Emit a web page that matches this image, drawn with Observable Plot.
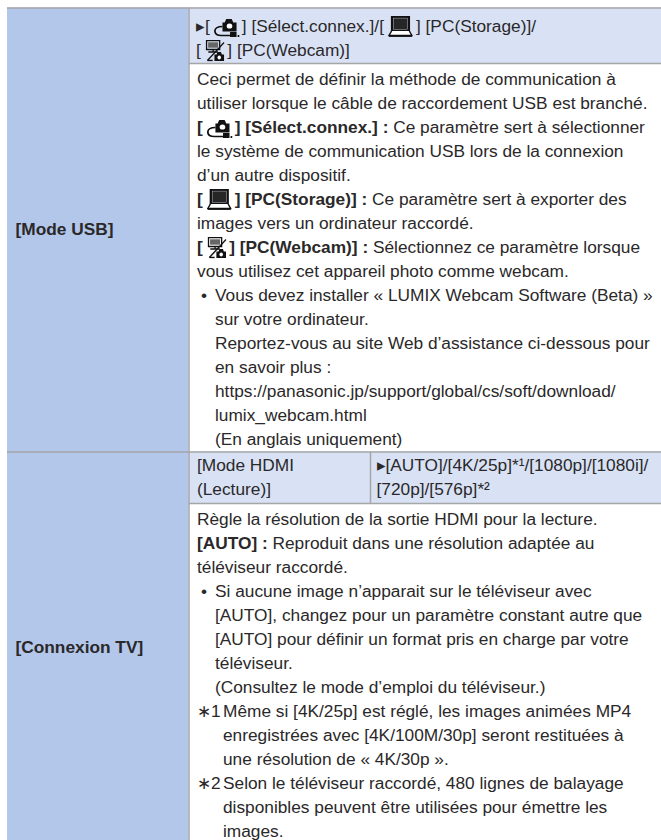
<!doctype html>
<html><head><meta charset="utf-8">
<script src="https://cdn.jsdelivr.net/npm/d3@7"></script>
<script src="https://cdn.jsdelivr.net/npm/@observablehq/plot@0.6"></script>
<style>html,body{margin:0;background:#fff}svg{display:block}</style>
</head><body><div id="chart"></div>
<script>
// Table content: ** toggles bold, {cam}/{pc}/{web} are inline icons
const usbHeader = ["▸[{cam}] [Sélect.connex.]/[{pc}] [PC(Storage)]/", "[{web}] [PC(Webcam)]"];
const usbBody = [
  "Ceci permet de définir la méthode de communication à",
  "utiliser lorsque le câble de raccordement USB est branché.",
  "**[{cam}] [Sélect.connex.] :** Ce paramètre sert à sélectionner",
  "le système de communication USB lors de la connexion",
  "d’un autre dispositif.",
  "**[{pc}] [PC(Storage)] :** Ce paramètre sert à exporter des",
  "images vers un ordinateur raccordé.",
  "**[{web}] [PC(Webcam)] :** Sélectionnez ce paramètre lorsque",
  "vous utilisez cet appareil photo comme webcam.",
  "•|Vous devez installer « LUMIX Webcam Software (Beta) »",
  "|sur votre ordinateur.",
  "|Reportez-vous au site Web d’assistance ci-dessous pour",
  "|en savoir plus :",
  "|https://panasonic.jp/support/global/cs/soft/download/",
  "|lumix_webcam.html",
  "|(En anglais uniquement)"
];
const tvHeaderLeft = ["[Mode HDMI", "(Lecture)]"];
const tvHeaderRight = ["▸[AUTO]/[4K/25p]*¹/[1080p]/[1080i]/", "[720p]/[576p]*²"];
const tvBody = [
  "Règle la résolution de la sortie HDMI pour la lecture.",
  "**[AUTO] :** Reproduit dans une résolution adaptée au",
  "téléviseur raccordé.",
  "•|Si aucune image n’apparait sur le téléviseur avec",
  "|[AUTO], changez pour un paramètre constant autre que",
  "|[AUTO] pour définir un format pris en charge par votre",
  "|téléviseur.",
  "|(Consultez le mode d’emploi du téléviseur.)",
  "∗1^Même si [4K/25p] est réglé, les images animées MP4",
  "^enregistrées avec [4K/100M/30p] seront restituées à",
  "^une résolution de « 4K/30p ».",
  "∗2^Selon le téléviseur raccordé, 480 lignes de balayage",
  "^disponibles peuvent être utilisées pour émettre les",
  "^images."
];
const rowLabels = ["[Mode USB]", "[Connexion TV]"];

// Layout
const FS = 17.3, LH = 24, FONT = "Liberation Sans", INK = "#2a2829";
const X0 = 7, X1 = 188.5, X2 = 370, XR = 661, PAD = 8;
const Y0 = 7.5, Y1 = 63, Y2 = 451.5, Y3 = 503, Y4 = 840;
const BULLET_X = 15, NOTE_X = 28;

const icon = svg => "data:image/svg+xml," + encodeURIComponent(
  `<svg xmlns="http://www.w3.org/2000/svg" viewBox="0 0 24 22" preserveAspectRatio="none">${svg}</svg>`);
const icons = {
  cam: {slot: 32, w: 26, src: icon(`<path d="M8 7h2l1.5-3.5h5L18 7h3v9H8z" fill="#111"/><circle cx="14.5" cy="10.5" r="2.6" fill="#fff"/><path d="M8 11C3 11 1 13 1 15.5S3 20 7 20h9" fill="none" stroke="#111" stroke-width="1.6"/><rect x="15" y="16.5" width="6" height="5" fill="#111"/><rect x="22" y="19.5" width="1.6" height="2" fill="#111"/>`)},
  pc: {slot: 32, w: 25, src: icon(`<rect x="3.5" y="1" width="17" height="14.5" fill="#111" stroke="#111" stroke-width="1.4"/><rect x="5.2" y="2.6" width="13.6" height="11.2" fill="#262626" stroke="#d9e2f5" stroke-width=".4"/><path d="M3.5 15.5 1 20h22l-2.5-4.5" fill="#fff" stroke="#111" stroke-width="1.4"/><rect x="1" y="19.8" width="22" height="1.6" fill="#111"/>`)},
  web: {slot: 26.5, w: 21, src: icon(`<rect x="2" y="1" width="15" height="9" fill="none" stroke="#111" stroke-width="1.5"/><rect x="3.8" y="2.8" width="11.4" height="5.4" fill="#666"/><path d="M9.5 10v2M4 12.5h11" stroke="#111" stroke-width="1.5"/><path d="M22 3 3 21" stroke="#111" stroke-width="1.5"/><path d="M3 21h6" stroke="#111" stroke-width="1.5"/><path d="M11 15h2.5l1-2.5h4l1 2.5H22v6.5H11z" fill="#111"/><circle cx="16.5" cy="18" r="2" fill="#fff"/>`)}
};

const ctx = document.createElement("canvas").getContext("2d");
const measure = (s, bold) => { ctx.font = `${bold ? "bold " : ""}${FS}px "${FONT}"`; return ctx.measureText(s).width; };

const runs = [], images = [];
function layout(line, x0, y) {
  let x = x0, bold = false, rest = line;
  const tab = line.match(/^(.*?)([|^])(.*)$/);
  if (tab) {
    if (tab[2] === "|" && tab[1]) runs.push({text: tab[1], x: x0 + 4, y, bold: false});
    if (tab[2] === "^" && tab[1]) {
      runs.push({text: tab[1][0], x: x0, y, bold: false});
      runs.push({text: tab[1][1], x: x0 + 14, y, bold: false});
    }
    x = x0 + (tab[2] === "|" ? BULLET_X + 3 : NOTE_X - 2);
    rest = tab[3];
  }
  for (const part of rest.split(/(\*\*|\{\w+\})/)) {
    if (part === "**") { bold = !bold; continue; }
    if (!part) continue;
    const m = part.match(/^\{(\w+)\}$/);
    if (m) {
      const ic = icons[m[1]];
      images.push({src: ic.src, x: x + 4 + ic.w / 2, y, w: ic.w});
      x += ic.slot;
      continue;
    }
    runs.push({text: part, x, y, bold});
    x += measure(part, bold);
  }
}
const block = (lines, x0, top) => lines.forEach((l, i) => layout(l, x0, top + i * LH));
const TX = X1 + PAD;
block(usbHeader, TX - 1, 26);
block(usbBody, TX, 79);
block(tvHeaderLeft, TX, 465);
block(tvHeaderRight, X2 + 6, 465);
block(tvBody, TX, 519);

const fills = [
  {x1: X0, x2: X1, y1: Y0, y2: Y4, c: "#b3c7ea"},
  {x1: X1, x2: XR, y1: Y0, y2: Y1, c: "#d9e2f5"},
  {x1: X1, x2: XR, y1: Y2, y2: Y3, c: "#d9e2f5"}
];
const hRules = [
  {x1: X0, x2: XR, y: Y0},
  {x1: X1, x2: XR, y: Y1},
  {x1: X0, x2: XR, y: Y2},
  {x1: X1, x2: XR, y: Y3}
];
const vRules = [
  {x: X1, y1: Y0, y2: Y4},
  {x: X2, y1: Y2, y2: Y3}
];
const labels = [
  {text: rowLabels[0], y: 229},
  {text: rowLabels[1], y: 647}
];
const textOpts = {x: "x", y: "y", text: "text", textAnchor: "start", lineAnchor: "middle",
                  fontSize: FS, fontFamily: FONT, fill: INK};

const plot = Plot.plot({
  width: 661, height: 840, margin: 0,
  x: {domain: [0, 661], range: [0, 661], axis: null},
  y: {domain: [0, 840], range: [0, 840], axis: null},
  style: {background: "#fff", fontFamily: FONT},
  marks: [
    Plot.rect(fills, {x1: "x1", x2: "x2", y1: "y1", y2: "y2", fill: "c"}),
    Plot.ruleY(hRules, {x1: "x1", x2: "x2", y: "y", stroke: "#a4a6a8", strokeWidth: 1.5}),
    Plot.ruleX(vRules, {x: "x", y1: "y1", y2: "y2", stroke: "#a4a6a8", strokeWidth: 1.5}),
    Plot.text(runs.filter(d => !d.bold), textOpts),
    Plot.text(runs.filter(d => d.bold), {...textOpts, fontWeight: "bold"}),
    Plot.text(labels, {...textOpts, x: () => X0 + 8, fontWeight: "bold"}),
    Plot.image(images, {x: "x", y: "y", src: "src", width: "w", height: 22, preserveAspectRatio: "none"})
  ]
});
document.getElementById("chart").append(plot);
</script></body></html>
